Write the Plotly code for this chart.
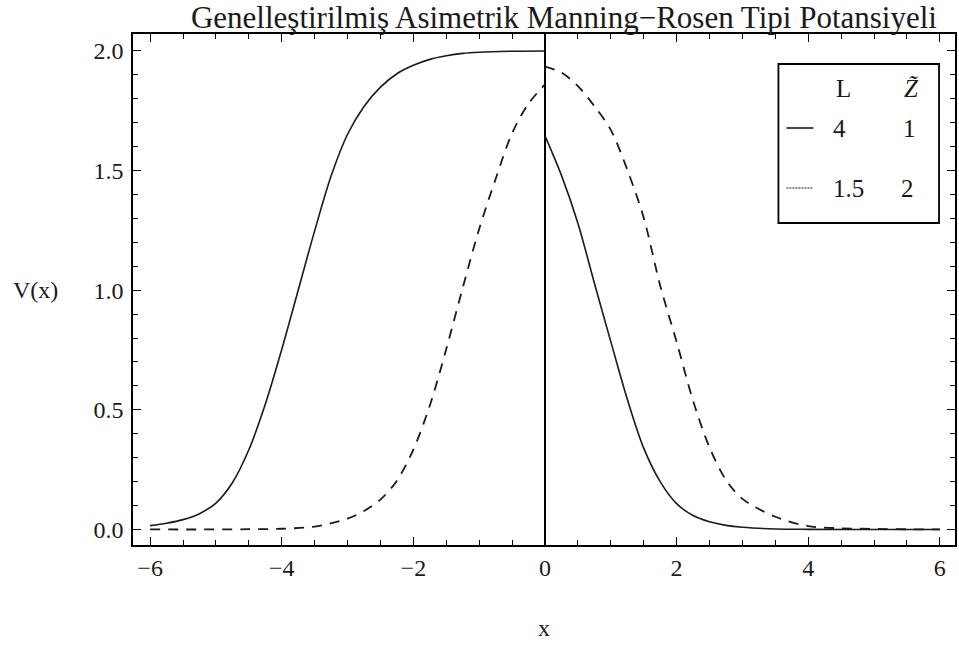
import plotly.graph_objects as go

# ---- data ----
solid_left_x = [-6, -5.75, -5.5, -5.25, -5, -4.75, -4.5, -4.25, -4, -3.75, -3.5, -3.25, -3, -2.75, -2.5, -2.25, -2, -1.75, -1.5, -1.25, -1, -0.5, 0]
solid_left_y = [0.016, 0.026, 0.041, 0.066, 0.11, 0.195, 0.333, 0.523, 0.752, 1.0, 1.248, 1.477, 1.652, 1.768, 1.849, 1.905, 1.94, 1.965, 1.98, 1.99, 1.995, 1.999, 2.0]
solid_right_x = [0, 0.25, 0.5, 0.75, 1, 1.25, 1.5, 1.75, 2, 2.25, 2.5, 2.75, 3, 3.5, 4, 5, 6]
solid_right_y = [1.645, 1.48, 1.28, 1.03, 0.785, 0.545, 0.34, 0.2, 0.108, 0.058, 0.032, 0.017, 0.009, 0.002, 0.0005, 0.0, 0.0]

dashed_left_x = [-6, -5, -4.5, -4, -3.5, -3, -2.75, -2.5, -2.25, -2, -1.75, -1.5, -1.25, -1, -0.75, -0.5, -0.25, 0]
dashed_left_y = [0.0, 0.0, 0.001, 0.003, 0.012, 0.045, 0.077, 0.125, 0.204, 0.334, 0.518, 0.754, 1.01, 1.256, 1.465, 1.656, 1.78, 1.86]
dashed_right_x = [0, 0.25, 0.5, 0.75, 1, 1.25, 1.5, 1.75, 2, 2.25, 2.5, 2.75, 3, 3.5, 4, 4.5, 5, 6]
dashed_right_y = [1.935, 1.91, 1.853, 1.77, 1.67, 1.504, 1.303, 1.02, 0.784, 0.538, 0.343, 0.207, 0.128, 0.053, 0.014, 0.005, 0.002, 0.0]

x_tick_vals = [-6, -4, -2, 0, 2, 4, 6]
x_tick_text = ["\u22126", "\u22124", "\u22122", "0", "2", "4", "6"]
y_tick_vals = [0.0, 0.5, 1.0, 1.5, 2.0]
y_tick_text = ["0.0", "0.5", "1.0", "1.5", "2.0"]

legend_header = ["L", "<i>Z\u0303</i>"]
legend_L = ["4", "1.5"]
legend_Z = ["1", "2"]

title_text = "Genelleştirilmiş Asimetrik Manning\u2212Rosen Tipi Potansiyeli"

# ---- layout geometry ----
W, H = 959, 655
L_M, R_M, T_M, B_M = 133, 2, 34, 110
PW, PH = W - L_M - R_M, H - T_M - B_M
FONT = "Liberation Serif"
INK = "#1a1a1a"


def px(xp):
    return (xp - L_M) / PW


def py(yp):
    return (H - B_M - yp) / PH


fig = go.Figure()
fig.add_trace(go.Scatter(
    x=solid_left_x + [None] + solid_right_x,
    y=solid_left_y + [None] + solid_right_y,
    mode="lines", line=dict(color=INK, width=1.6, shape="spline", smoothing=0.9),
    connectgaps=False, showlegend=False))
fig.add_trace(go.Scatter(
    x=dashed_left_x + [None] + dashed_right_x,
    y=dashed_left_y + [None] + dashed_right_y,
    mode="lines", line=dict(color=INK, width=1.8, dash="10px,8px", shape="spline", smoothing=0.9),
    connectgaps=False, showlegend=False))

axis_common = dict(
    showline=True, linecolor="black", linewidth=1.5, mirror="ticks",
    ticks="inside", ticklen=8, tickwidth=1.3, tickcolor="black",
    showgrid=False,
    tickfont=dict(family=FONT, size=24, color=INK),
)

fig.update_xaxes(
    range=[-6.26, 6.23], tickvals=x_tick_vals, ticktext=x_tick_text,
    zeroline=True, zerolinecolor="black", zerolinewidth=1.5,
    minor=dict(ticks="inside", ticklen=5, tickwidth=1, tickcolor="black", dtick=0.5, tick0=0, showgrid=False),
    title=dict(text="x", font=dict(family=FONT, size=24, color=INK), standoff=40),
    ticklabelstandoff=0,
    **axis_common)
fig.update_yaxes(
    range=[-0.065, 2.071], tickvals=y_tick_vals, ticktext=y_tick_text,
    zeroline=False,
    minor=dict(ticks="inside", ticklen=5, tickwidth=1, tickcolor="black", dtick=0.1, tick0=0, showgrid=False),
    ticklabelstandoff=3,
    **axis_common)


def label(text, xp, yp, size=24):
    return dict(text=text, x=px(xp), y=py(yp), xref="paper", yref="paper", showarrow=False,
                xanchor="center", yanchor="middle",
                font=dict(family=FONT, size=size, color=INK))


annotations = [label("V(x)", 35, 290)]
# legend table
annotations.append(label(legend_header[0], 845, 88, 25))
annotations.append(label(legend_header[1], 913, 88, 25))
L_cols = [841, 850]
Z_cols = [911, 909]
rows = [128, 188]
for i in range(2):
    annotations.append(label(legend_L[i], L_cols[i], rows[i], 25))
    annotations.append(label(legend_Z[i], Z_cols[i], rows[i], 25))

shapes = [
    dict(type="rect", xref="paper", yref="paper", x0=px(780), x1=px(941), y0=py(223), y1=py(64),
         line=dict(color="black", width=1.8), fillcolor="white", layer="above"),
    dict(type="line", xref="paper", yref="paper", x0=px(788), x1=px(815), y0=py(128), y1=py(128),
         line=dict(color=INK, width=1.6)),
    dict(type="line", xref="paper", yref="paper", x0=px(788), x1=px(815), y0=py(188), y1=py(188),
         line=dict(color=INK, width=1.2, dash="2px,1px")),
]

fig.update_layout(
    width=W, height=H,
    margin=dict(l=L_M, r=R_M, t=T_M, b=B_M),
    paper_bgcolor="white", plot_bgcolor="white",
    title=dict(text=title_text, x=px(565), xref="paper", y=1 - 17 / H, yref="container",
               xanchor="center", yanchor="middle",
               font=dict(family=FONT, size=31, color=INK)),
    annotations=annotations,
    shapes=shapes,
    showlegend=False,
)

fig.write_html("out.html")
